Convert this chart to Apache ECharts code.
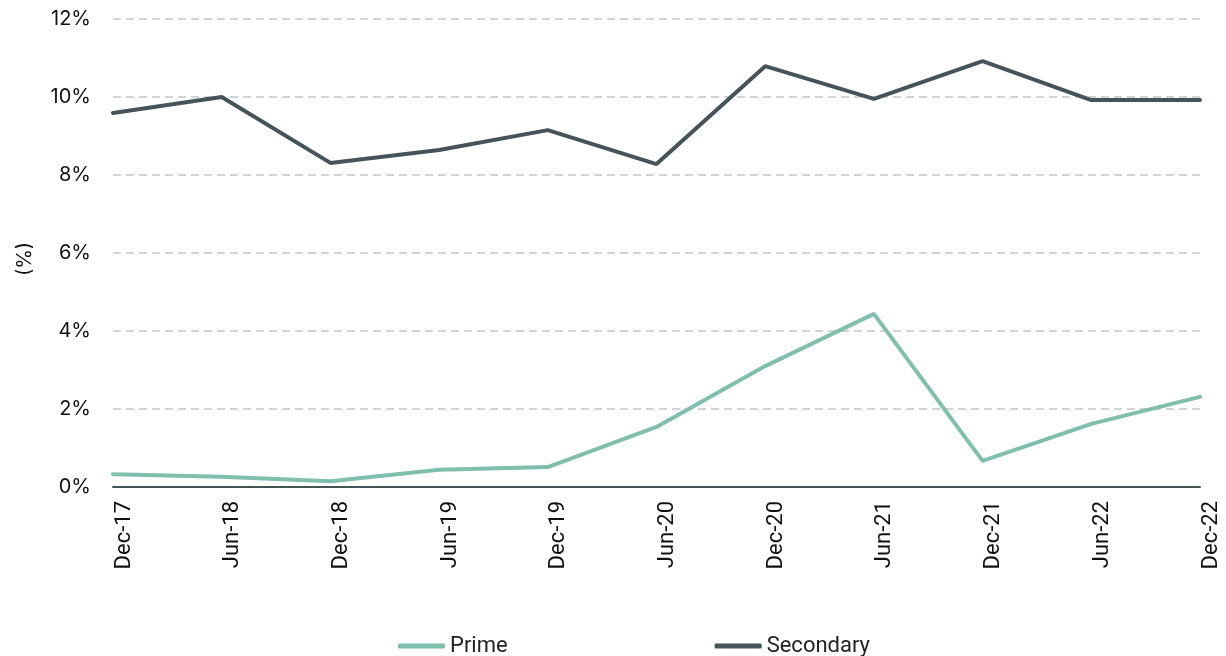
<!DOCTYPE html>
<html>
<head>
<meta charset="utf-8">
<script src="https://cdn.jsdelivr.net/npm/echarts@6/dist/echarts.min.js"></script>
<style>
  html, body { margin: 0; padding: 0; background: #fff; }
  #chart { width: 1226px; height: 656px; }
</style>
</head>
<body>
<div id="chart"></div>
<script>
// categories and values
var periods = ['Dec-17', 'Jun-18', 'Dec-18', 'Jun-19', 'Dec-19', 'Jun-20', 'Dec-20', 'Jun-21', 'Dec-21', 'Jun-22', 'Dec-22'];
var prime = [0.33, 0.26, 0.15, 0.44, 0.51, 1.54, 3.10, 4.44, 0.67, 1.62, 2.31];
var secondary = [9.59, 10.0, 8.31, 8.64, 9.15, 8.28, 10.79, 9.95, 10.92, 9.92, 9.92];

var chart = echarts.init(document.getElementById('chart'));
var font = 'Inter, "Noto Sans", sans-serif';
var narrow = 'Roboto, "Liberation Sans", sans-serif';

chart.setOption({
    animation: false,
    textStyle: { fontFamily: font },
    grid: { left: 113, right: 26, top: 19, bottom: 169 },
    legend: {
        top: 630,
        left: 393,
        itemGap: 207,
        itemWidth: 47,
        itemHeight: 5,
        icon: 'roundRect',
        textStyle: { fontSize: 22, color: '#222', fontFamily: narrow },
        data: ['Prime', 'Secondary']
    },
    xAxis: {
        type: 'category',
        data: periods,
        boundaryGap: false,
        axisLine: { lineStyle: { color: '#45545a', width: 2 } },
        axisTick: { show: false },
        axisLabel: {
            rotate: 90, fontSize: 22, color: '#111', margin: 14, interval: 0,
            fontFamily: narrow, verticalAlign: 'top'
        }
    },
    yAxis: {
        type: 'value',
        min: 0,
        max: 12,
        interval: 2,
        name: '(%)',
        nameLocation: 'middle',
        nameRotate: 90,
        nameGap: 78,
        nameTextStyle: { fontSize: 20, color: '#111', padding: [0, 12, 0, 0] },
        axisLabel: { formatter: '{value}%', fontSize: 20, color: '#111', margin: 22 },
        axisLine: { show: false },
        axisTick: { show: false },
        splitLine: { lineStyle: { color: '#cfd4d6', type: [8, 5], width: 2 } }
    },
    series: [
        {
            name: 'Prime',
            type: 'line',
            data: prime,
            symbol: 'none',
            color: '#80bfae',
            lineStyle: { width: 4, color: '#80bfae', cap: 'round' }
        },
        {
            name: 'Secondary',
            type: 'line',
            data: secondary,
            symbol: 'none',
            color: '#45545a',
            lineStyle: { width: 4, color: '#45545a', cap: 'round' }
        }
    ]
});

window.onresize = function () {
    chart.resize();
};
</script>
</body>
</html>
